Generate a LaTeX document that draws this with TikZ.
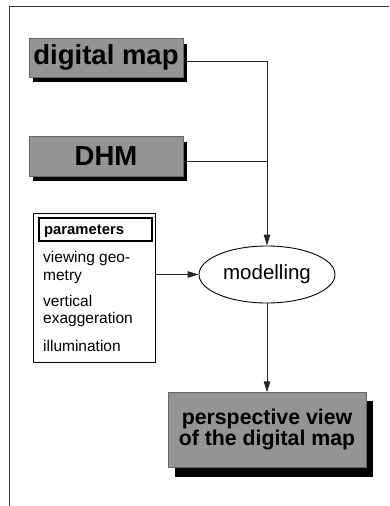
\documentclass[tikz,border=0pt]{standalone}
\usepackage{fontspec}
\setmainfont{Liberation Sans}
\usetikzlibrary{arrows.meta,shapes.geometric,calc}

\tikzset{
  flow/.style={line width=0.9pt, draw=black!85},
  arr/.style={flow, -{Triangle[length=11pt,width=6.5pt]}},
  databox/.style={rectangle, fill=black!42, draw=black!60, line width=0.4pt,
    inner sep=0pt, align=center, font=\bfseries\fontsize{27.5}{22}\selectfont},
  txt/.style={anchor=base west, inner sep=0pt, font=\fontsize{15.5}{17}\selectfont},
}

\begin{document}
\begin{tikzpicture}[x=1pt,y=-1pt]
  \useasboundingbox (0,0) rectangle (389,506);

  % open frame: top and left edges
  \coordinate (ftr) at (389,6);
  \coordinate (ftl) at (9,6);
  \coordinate (fbl) at (9,506);
  \draw[line width=0.8pt, black!80] (ftr) -- (ftl) -- (fbl);

  % drop shadows
  \fill[black] (33,44) rectangle (187,82);
  \fill[black] (33,142) rectangle (187,181);
  \fill[black] (175,401) rectangle (373,477);

  % source boxes
  \node[databox, minimum width=154pt, minimum height=39pt] (dmap) at (106,57.5) {digital map};
  \node[databox, minimum width=154pt, minimum height=40pt] (dhm) at (106,156) {DHM};

  % processing step
  \node[ellipse, draw, line width=0.9pt, minimum width=136pt, minimum height=57pt,
        inner sep=0pt, font=\fontsize{20.5}{22}\selectfont] (model) at (267,274.5) {modelling};

  % result box
  \node[databox, minimum width=198pt, minimum height=75pt,
        font=\bfseries\fontsize{21.3}{21}\selectfont] (view) at (267,430) {perspective view\\of the digital map};

  % parameter list
  \node[rectangle, draw, line width=0.8pt, minimum width=122pt, minimum height=149pt,
        inner sep=0pt] (params) at (94,287.5) {};
  \node[rectangle, draw, line width=1.2pt, minimum width=113pt, minimum height=23pt,
        inner sep=0pt] (ptitle) at (95.5,229.5) {};
  \node[txt, font=\bfseries\fontsize{14.8}{17}\selectfont] (t0) at (44,234) {parameters};
  \node[txt] (t1) at (43,262) {viewing geo-};
  \node[txt] (t2) at (43,280) {metry};
  \node[txt] (t3) at (43,306) {vertical};
  \node[txt] (t4) at (43,323) {exaggeration};
  \node[txt] (t5) at (43,351) {illumination};

  % connectors
  \coordinate (join1) at (267,61);
  \coordinate (join2) at (267,161);
  \draw[flow] ([xshift=4pt,yshift=-3.5pt]dmap.east) -- (join1);
  \draw[flow] ([xshift=4pt,yshift=-5pt]dhm.east) -- (join2);
  \draw[arr] (join1) -- (model.north);
  \draw[arr] (params.east |- model.west) -- (model.west);
  \draw[arr] (model.south) -- (model.south |- view.north);
\end{tikzpicture}
\end{document}
